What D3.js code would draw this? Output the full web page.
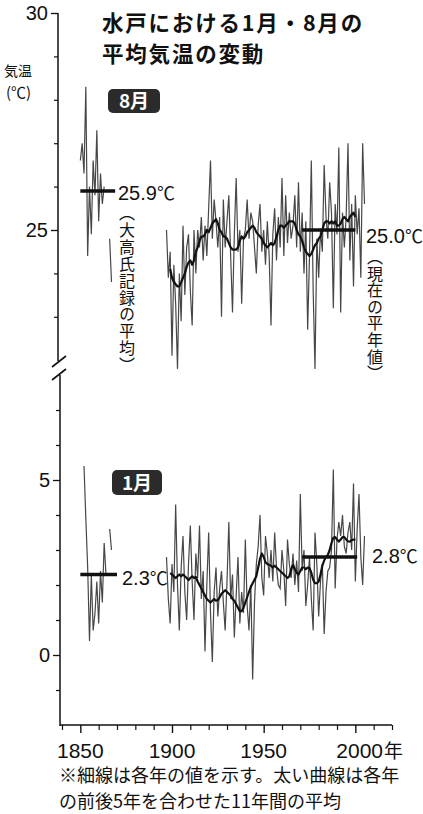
<!DOCTYPE html>
<html><head><meta charset="utf-8">
<script src="https://cdn.jsdelivr.net/npm/d3@7/dist/d3.min.js"></script>
<style>
html,body{margin:0;padding:0;background:#fff;}
svg{display:block;}
.cjk{font-family:"Noto Sans CJK JP","Noto Sans CJK SC",sans-serif;}
.num{font-family:"Liberation Sans Narrow","Liberation Sans",Arial,sans-serif;}
.vert{writing-mode:vertical-rl;text-orientation:mixed;}
</style>
</head><body>
<svg id="c" width="423" height="814"></svg>
<script>
// ---------------- DATA ----------------
const titleLines = ["水戸における1月・8月の", "平均気温の変動"];
const noteLines = ["※細線は各年の値を示す。太い曲線は各年", "の前後5年を合わせた11年間の平均"];
const xTickMajor = [1850, 1900, 1950, 2000];
const xTickMinor = [1840,1860,1870,1880,1890,1910,1920,1930,1940,1960,1970,1980,1990,2010,2020];
const augTickMajor = [25, 30];
const augTickMinor = [23, 24, 26, 27, 28, 29];
const janTickMajor = [0, 5];
const janTickMinor = [-1, 1, 2, 3, 4, 6, 7];

// Old record (大高氏記録), August, years 1850-1867 (null = no data)
const oldAugYears = [1850,1851,1852,1853,1854,1855,1856,1857,1858,1859,1860,1861,1862,1863,1864,1865,1866,1867];
const oldAug = [26.6,27.0,26.3,28.3,24.4,26.0,24.9,26.6,25.8,27.3,25.2,26.3,25.6,26.0,null,null,24.8,23.8];
// Old record, January
const oldJanYears = [1852,1853,1854,1855,1856,1857,1858,1859,1860,1861,1862,1863,1864,1865,1866,1867];
const oldJan = [5.4,3.9,2.5,0.4,2.3,0.7,1.2,2.1,0.9,2.4,1.5,3.2,2.3,null,3.6,3.0];

// Modern annual values, 1897-2005
const modStart = 1897;
const augAnnual = [
25.0,23.9,24.5,22.1,24.2,23.3,21.8,24.0,22.9,25.1,
23.5,24.6,24.9,23.6,22.8,25.0,24.0,25.0,24.6,25.3,
24.3,25.1,24.4,25.5,26.6,24.8,25.7,25.2,24.6,25.3,
23.0,25.7,24.6,25.2,25.8,24.4,23.1,24.9,26.2,24.5,
25.0,23.3,24.8,25.0,25.7,24.8,25.4,25.2,24.6,24.0,
25.1,25.6,24.5,25.0,24.2,25.2,24.4,22.8,24.9,25.5,
24.3,25.3,24.6,26.2,24.4,25.8,24.7,25.4,24.8,25.1,
25.8,24.6,26.1,24.5,25.4,24.0,25.2,22.7,24.4,26.6,
23.6,21.8,24.8,23.9,25.0,24.5,26.5,25.3,24.8,26.1,
25.4,23.2,25.6,24.9,26.9,23.1,25.4,24.6,25.3,27.0,
24.3,25.6,23.7,25.8,24.9,25.5,23.9,27.0,25.6];
const janAnnual = [
2.8,1.6,0.9,2.6,1.8,4.3,2.0,0.7,2.5,3.4,
1.8,1.0,2.6,3.7,2.1,1.0,2.9,2.2,3.7,1.6,
2.4,0.1,2.0,3.5,1.2,-0.2,1.8,2.5,1.1,1.9,
2.4,1.5,0.7,2.1,3.8,1.6,2.3,0.5,1.7,2.8,
0.9,1.8,1.2,3.3,1.4,0.7,2.0,-0.7,1.5,2.6,
3.1,4.0,2.2,1.7,3.4,2.9,2.2,3.0,2.1,3.5,
2.5,2.0,1.9,3.0,2.4,1.4,3.3,2.6,2.2,2.9,
2.0,2.7,1.8,4.6,2.4,3.0,1.4,2.0,2.8,1.6,
0.7,3.5,2.6,1.1,2.1,2.6,0.6,1.8,2.4,2.5,
3.0,5.3,1.9,3.3,3.8,3.4,4.0,3.1,2.9,3.5,
3.8,3.0,4.9,2.1,3.6,4.6,2.8,2.0,3.4];

// 11-year running means, 1899-2000
const smoothStart = 1899;
const augSmooth = [
24.1,23.9,23.8,23.75,23.7,23.7,23.8,23.9,24.0,24.15,
24.25,24.3,24.2,24.3,24.5,24.6,24.75,24.85,24.85,24.9,
25.0,24.95,25.05,25.15,25.2,25.25,25.15,25.0,24.95,24.85,
24.85,24.8,24.7,24.6,24.55,24.55,24.55,24.6,24.75,24.85,
24.8,24.85,24.95,25.0,25.05,25.1,25.05,24.95,24.9,24.85,
24.8,24.7,24.65,24.6,24.65,24.7,24.65,24.7,24.85,25.0,
25.1,25.1,25.05,25.1,25.15,25.2,25.2,25.2,25.15,25.0,
24.9,24.85,24.75,24.6,24.5,24.45,24.4,24.45,24.55,24.65,
24.7,24.8,24.85,25.0,25.15,25.2,25.2,25.15,25.2,25.15,
25.2,25.1,25.1,25.15,25.25,25.3,25.25,25.2,25.3,25.35,
25.4,25.3];
const janSmooth = [
2.34,2.3,2.25,2.2,2.25,2.3,2.25,2.3,2.25,2.2,
2.14,2.2,2.25,2.2,2.23,2.1,2.0,1.9,1.8,1.7,
1.6,1.55,1.5,1.55,1.6,1.55,1.57,1.65,1.75,1.8,
1.85,1.8,1.75,1.7,1.6,1.55,1.45,1.35,1.25,1.25,
1.35,1.5,1.65,1.8,1.95,2.05,2.15,2.25,2.5,2.75,
2.9,2.8,2.65,2.6,2.57,2.55,2.5,2.55,2.5,2.45,
2.4,2.35,2.3,2.25,2.2,2.25,2.45,2.57,2.45,2.35,
2.3,2.4,2.5,2.5,2.45,2.5,2.48,2.35,2.15,2.05,
2.05,2.1,2.3,2.55,2.7,2.8,2.86,3.0,3.2,3.35,
3.37,3.3,3.24,3.3,3.37,3.37,3.3,3.25,3.24,3.28,
3.3,3.29];

// Reference averages: [value, startYear, endYear]
const augOldMean = [25.9, 1850, 1869];
const augNormal = [25.0, 1971, 2000];
const janOldMean = [2.3, 1850, 1870];
const janNormal = [2.8, 1971, 2001];
const augOldLabel = "25.9℃", augOldNote = "（大高氏記録の平均）";
const augNormLabel = "25.0℃", augNormNote = "（現在の平年値）";
const janOldLabel = "2.3℃", janNormLabel = "2.8℃";

// ---------------- DRAW ----------------
const svg = d3.select("#c");
const x = d3.scaleLinear().domain([1840, 2020]).range([62, 392]);
const yA = d3.scaleLinear().domain([25, 30]).range([230, 13]);
const yJ = d3.scaleLinear().domain([0, 5]).range([655, 480]);

const axUx = 58, axLx = 60;
const black = "#111";

// y spines with break
svg.append("line").attr("x1",axUx).attr("x2",axUx).attr("y1",yA(30)).attr("y2",361).attr("stroke",black).attr("stroke-width",1.5);
svg.append("line").attr("x1",axLx).attr("x2",axLx).attr("y1",375).attr("y2",726).attr("stroke",black).attr("stroke-width",1.5);
svg.append("line").attr("x1",52).attr("y1",367).attr("x2",66).attr("y2",356).attr("stroke",black).attr("stroke-width",1.6);
svg.append("line").attr("x1",52).attr("y1",380).attr("x2",66).attr("y2",369).attr("stroke",black).attr("stroke-width",1.6);

function yAxis(scale, ax, major, minor) {
  const gM = svg.append("g").attr("transform",`translate(${ax},0)`)
    .call(d3.axisLeft(scale).tickValues(major).tickSize(7).tickPadding(3).tickFormat(d3.format("d")));
  gM.select(".domain").remove();
  gM.selectAll("line").attr("stroke",black).attr("stroke-width",1.3);
  gM.selectAll("text").attr("class","num").attr("font-size",20).attr("fill",black).attr("font-family",null);
  const gm = svg.append("g").attr("transform",`translate(${ax},0)`)
    .call(d3.axisLeft(scale).tickValues(minor).tickSize(4).tickFormat(""));
  gm.select(".domain").remove();
  gm.selectAll("line").attr("stroke",black).attr("stroke-width",1.2);
}
yAxis(yA, axUx, augTickMajor, augTickMinor);
yAxis(yJ, axLx, janTickMajor, janTickMinor);

// x axis
const xg = svg.append("g").attr("transform","translate(0,725)")
  .call(d3.axisBottom(x).tickValues(xTickMajor).tickSize(8).tickFormat(""));
xg.select(".domain").attr("d",`M${axLx},0H${x(2020)}`).attr("stroke",black).attr("stroke-width",1.5);
xg.selectAll("line").attr("stroke",black).attr("stroke-width",1.4);
const xgm = svg.append("g").attr("transform","translate(0,725)")
  .call(d3.axisBottom(x).tickValues(xTickMinor).tickSize(5).tickFormat(""));
xgm.select(".domain").remove();
xgm.selectAll("line").attr("stroke",black).attr("stroke-width",1.2);
xTickMajor.forEach(t => {
  if (t === 2000) {
    const tt = svg.append("text").attr("x",x(t)-19).attr("y",758).attr("fill",black);
    tt.append("tspan").attr("class","num").attr("font-size",21).text(t);
    tt.append("tspan").attr("class","cjk").attr("font-size",19).attr("dx",1).text("年");
  } else {
    svg.append("text").attr("class","num").attr("x",x(t)).attr("y",758).attr("text-anchor","middle")
      .attr("font-size",21).attr("fill",black).text(t);
  }
});

// annual series
function series(years, vals) { return years.map((yr,i)=>({year:yr, v:vals[i]})); }
function seq(start, vals) { return vals.map((v,i)=>({year:start+i, v:v})); }
const lineGen = (yS) => d3.line().defined(d=>d.v!=null).x(d=>x(d.year)).y(d=>yS(d.v));

function drawThin(data, yS) {
  svg.append("path").datum(data).attr("d", lineGen(yS)).attr("fill","none")
    .attr("stroke","#474747").attr("stroke-width",1.2).attr("stroke-linejoin","miter");
}
drawThin(series(oldAugYears, oldAug), yA);
drawThin(seq(modStart, augAnnual), yA);
drawThin(series(oldJanYears, oldJan), yJ);
drawThin(seq(modStart, janAnnual), yJ);

function drawSmooth(data, yS) {
  svg.append("path").datum(data).attr("d", lineGen(yS)).attr("fill","none")
    .attr("stroke",black).attr("stroke-width",2.2).attr("stroke-linejoin","round");
}
drawSmooth(seq(smoothStart, augSmooth), yA);
drawSmooth(seq(smoothStart, janSmooth), yJ);

// reference mean lines
function refLine(r, yS) {
  svg.append("line").attr("x1",x(r[1])).attr("x2",x(r[2])).attr("y1",yS(r[0])).attr("y2",yS(r[0]))
    .attr("stroke",black).attr("stroke-width",3.6);
}
refLine(augOldMean, yA); refLine(augNormal, yA); refLine(janOldMean, yJ); refLine(janNormal, yJ);

function label(txt, xx, yy) {
  const m = txt.match(/^([\d.]+)(℃)$/);
  const t = svg.append("text").attr("x",xx).attr("y",yy).attr("fill",black);
  t.append("tspan").attr("class","num").attr("font-size",20).text(m[1]);
  t.append("tspan").attr("class","cjk").attr("font-size",18).text(m[2]);
}
label(augOldLabel, 118, 200);
label(augNormLabel, 366, 243);
label(janOldLabel, 122, 585);
label(janNormLabel, 372, 563);

function vtext(txt, cx, y0, size, spacing) {
  svg.append("text").attr("class","cjk vert").attr("x",cx).attr("y",y0)
    .attr("font-size",size).attr("letter-spacing",spacing).attr("fill",black).text(txt);
}
vtext(augOldNote, 127, 205, 16, 0.9);
vtext(augNormNote, 375, 249, 16, 0.6);

// title
titleLines.forEach((l,i)=>{
  svg.append("text").attr("class","cjk").attr("x",102).attr("y",31 + i*31.3)
    .attr("font-size",21.5).attr("letter-spacing",1.8).attr("font-weight",700).attr("fill",black).text(l);
});

// y label
svg.append("text").attr("class","cjk").attr("x",4).attr("y",76).attr("font-size",14).attr("fill",black).text("気温");
svg.append("text").attr("class","cjk").attr("x",6).attr("y",98).attr("font-size",15).attr("fill",black).text("(℃)");

// badges
function badge(txt, bx, by, w, h) {
  svg.append("rect").attr("x",bx).attr("y",by).attr("width",w).attr("height",h).attr("rx",5)
    .attr("fill","#2b2b2b");
  svg.append("text").attr("class","cjk").attr("x",bx+w/2).attr("y",by+h/2+7).attr("text-anchor","middle")
    .attr("font-size",19).attr("font-weight",700).attr("fill","#fff").text(txt);
}
badge("8月", 108, 89, 52, 24);
badge("1月", 112, 470, 50, 25);

// footnote (one text, two lines)
const note = svg.append("text").attr("class","cjk").attr("x",59).attr("y",782)
  .attr("font-size",18).attr("fill",black);
noteLines.forEach((l,i)=>{
  note.append("tspan").attr("x",59).attr("dy", i===0 ? 0 : 26).text(l);
});
</script>
</body></html>
